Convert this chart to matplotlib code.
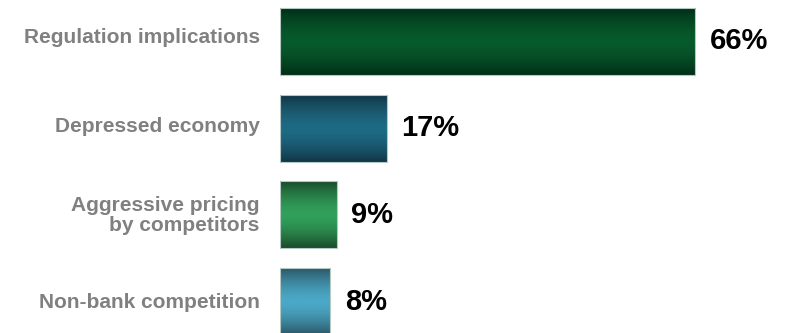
import numpy as np
import matplotlib.pyplot as plt
import matplotlib.transforms as mtransforms
from matplotlib.colors import LinearSegmentedColormap

plt.rcParams['font.family'] = ['Liberation Sans', 'DejaVu Sans']

# ---- data ----
categories = ["Regulation implications", "Depressed economy",
              "Aggressive pricing\nby competitors", "Non-bank competition"]
values = [66, 17, 9, 8]
# (edge colour, centre colour) of each bar's vertical shading
shades = [("#022e18", "#075a2b"),
          ("#123646", "#1e6a84"),
          ("#1a4a2a", "#31a05a"),
          ("#2a5666", "#4ba8c6")]
# small vertical nudges of the category labels (points, up = positive)
label_nudge = [4.5, 2.5, 1.5, 0.5]

fig = plt.figure(figsize=(7.89, 3.33), dpi=100)
ax = fig.add_axes([280 / 789, 0, 509 / 789, 1])

pos = np.arange(len(values))
bars = ax.barh(pos, values, height=0.773, color="none",
               edgecolor="#b4c8c4", linewidth=0.8, zorder=3)

ax.set_xlim(0, 509 / 6.29)
ax.set_ylim(3 + 31.5 / 86.67, -41.5 / 86.67)

# gradient fill inside each bar
t = np.linspace(0, 1, 200)
prof = 1 - np.abs(2 * t - 1) ** 1.6
for bar, (c_edge, c_mid) in zip(bars, shades):
    cmap = LinearSegmentedColormap.from_list("g", [c_edge, c_mid])
    x0, y0 = bar.get_x(), bar.get_y()
    w, h = bar.get_width(), bar.get_height()
    ax.imshow(prof.reshape(-1, 1), cmap=cmap, aspect="auto",
              extent=[x0, x0 + w, y0 + h, y0], zorder=2,
              interpolation="bilinear")

for bar, v in zip(bars, values):
    ax.text(bar.get_width() + 2.3, bar.get_y() + bar.get_height() / 2,
            f"{v}%", va="center", ha="left", fontsize=21,
            fontweight="bold", color="black")

ax.set_yticks(pos)
ax.set_yticklabels(categories, fontsize=15, fontweight="bold",
                   color="#808080", multialignment="right",
                   linespacing=1.05)
ax.tick_params(axis="y", length=0, pad=14.5)
for lab, dy in zip(ax.get_yticklabels(), label_nudge):
    lab.set_transform(lab.get_transform() +
                      mtransforms.ScaledTranslation(0, dy / 72, fig.dpi_scale_trans))
ax.set_xticks([])
for s in ax.spines.values():
    s.set_visible(False)

fig.savefig("out.png", dpi=100)
